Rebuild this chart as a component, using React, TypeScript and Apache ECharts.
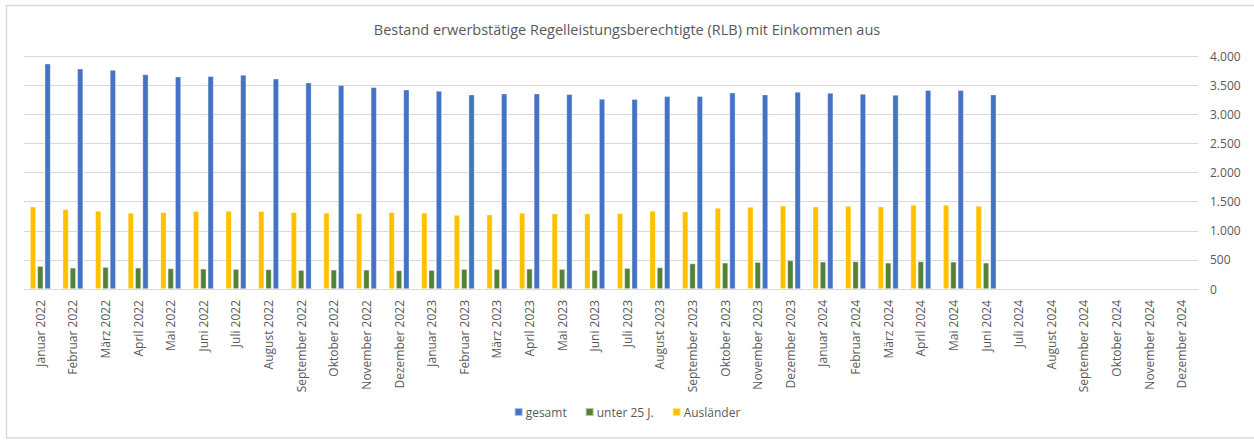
import React, { useEffect, useRef } from "react";
import * as echarts from "echarts";

const categories = [
  "Januar 2022", "Februar 2022", "März 2022", "April 2022", "Mai 2022", "Juni 2022",
  "Juli 2022", "August 2022", "September 2022", "Oktober 2022", "November 2022", "Dezember 2022",
  "Januar 2023", "Februar 2023", "März 2023", "April 2023", "Mai 2023", "Juni 2023",
  "Juli 2023", "August 2023", "September 2023", "Oktober 2023", "November 2023", "Dezember 2023",
  "Januar 2024", "Februar 2024", "März 2024", "April 2024", "Mai 2024", "Juni 2024",
  "Juli 2024", "August 2024", "September 2024", "Oktober 2024", "November 2024", "Dezember 2024",
];

const gesamt = [
  3869, 3783, 3760, 3686, 3646, 3652, 3675, 3612, 3543, 3498, 3464, 3424,
  3401, 3338, 3355, 3355, 3344, 3264, 3258, 3309, 3309, 3372, 3338, 3384,
  3367, 3349, 3332, 3412, 3412, 3338,
  null, null, null, null, null, null,
];

const unter25 = [
  394, 365, 377, 365, 354, 348, 342, 337, 325, 331, 331, 320,
  325, 342, 342, 348, 342, 325, 359, 371, 439, 451, 462, 491,
  468, 474, 451, 474, 468, 451,
  null, null, null, null, null, null,
];

const auslaender = [
  1415, 1369, 1341, 1307, 1318, 1335, 1341, 1335, 1318, 1307, 1301, 1318,
  1307, 1272, 1278, 1307, 1295, 1295, 1301, 1341, 1329, 1392, 1409, 1432,
  1415, 1427, 1415, 1444, 1444, 1427,
  null, null, null, null, null, null,
];

const yTicks = { min: 0, max: 4000, interval: 500 };

const FONT = "'Open Sans', 'Noto Sans', sans-serif";
const TEXT = "#595959";

export default function App() {
  const ref = useRef<HTMLDivElement>(null);

  useEffect(() => {
    document.body.style.margin = "0";
    if (!ref.current) return;
    const chart = echarts.init(ref.current, null, { renderer: "svg" });
    const barStyle = (color: string) => ({
      color,
      borderColor: "rgba(255,255,255,0.55)",
      borderWidth: 0.7,
    });
    chart.setOption({
      animation: false,
      backgroundColor: "#ffffff",
      textStyle: { fontFamily: FONT },
      title: {
        text: "Bestand erwerbstätige Regelleistungsberechtigte (RLB) mit Einkommen aus",
        left: "center",
        top: 17,
        textStyle: { fontFamily: FONT, fontSize: 14.5, fontWeight: "normal", color: TEXT },
      },
      graphic: [
        {
          type: "rect",
          shape: { x: 6.5, y: 5.5, width: 1260, height: 432.5 },
          style: { fill: "none", stroke: "#D9D9D9", lineWidth: 1.5 },
          silent: true,
          z: -1,
        },
      ],
      legend: {
        bottom: 20,
        left: "center",
        icon: "rect",
        itemWidth: 8,
        itemHeight: 8,
        itemGap: 18,
        data: ["gesamt", "unter 25 J.", "Ausländer"],
        textStyle: { fontFamily: FONT, fontSize: 12, color: TEXT, padding: [0, 0, 0, -2] },
      },
      grid: { left: 24, right: 56, top: 56, bottom: 154, containLabel: false },
      xAxis: {
        type: "category",
        data: categories,
        axisLine: { show: true, lineStyle: { color: "#D9D9D9", width: 1 } },
        axisTick: { show: false },
        axisLabel: {
          rotate: 90,
          interval: 0,
          margin: 11,
          fontFamily: FONT,
          fontSize: 12,
          color: TEXT,
        },
      },
      yAxis: {
        type: "value",
        position: "right",
        min: yTicks.min,
        max: yTicks.max,
        interval: yTicks.interval,
        axisLine: { show: false },
        axisTick: { show: false },
        splitLine: { lineStyle: { color: "#D9D9D9", width: 1 } },
        axisLabel: {
          margin: 12,
          fontFamily: FONT,
          fontSize: 12,
          color: TEXT,
          formatter: (v: number) => v.toLocaleString("de-DE"),
        },
      },
      series: [
        {
          name: "Ausländer",
          type: "bar",
          data: auslaender,
          barWidth: 6,
          barGap: "22%",
          itemStyle: barStyle("#FFC000"),
        },
        {
          name: "unter 25 J.",
          type: "bar",
          data: unter25,
          barWidth: 6,
          barGap: "22%",
          itemStyle: barStyle("#548235"),
        },
        {
          name: "gesamt",
          type: "bar",
          data: gesamt,
          barWidth: 6,
          barGap: "22%",
          itemStyle: barStyle("#4472C4"),
        },
      ],
    });
    return () => chart.dispose();
  }, []);

  return <div ref={ref} style={{ width: 1254, height: 443 }} />;
}
